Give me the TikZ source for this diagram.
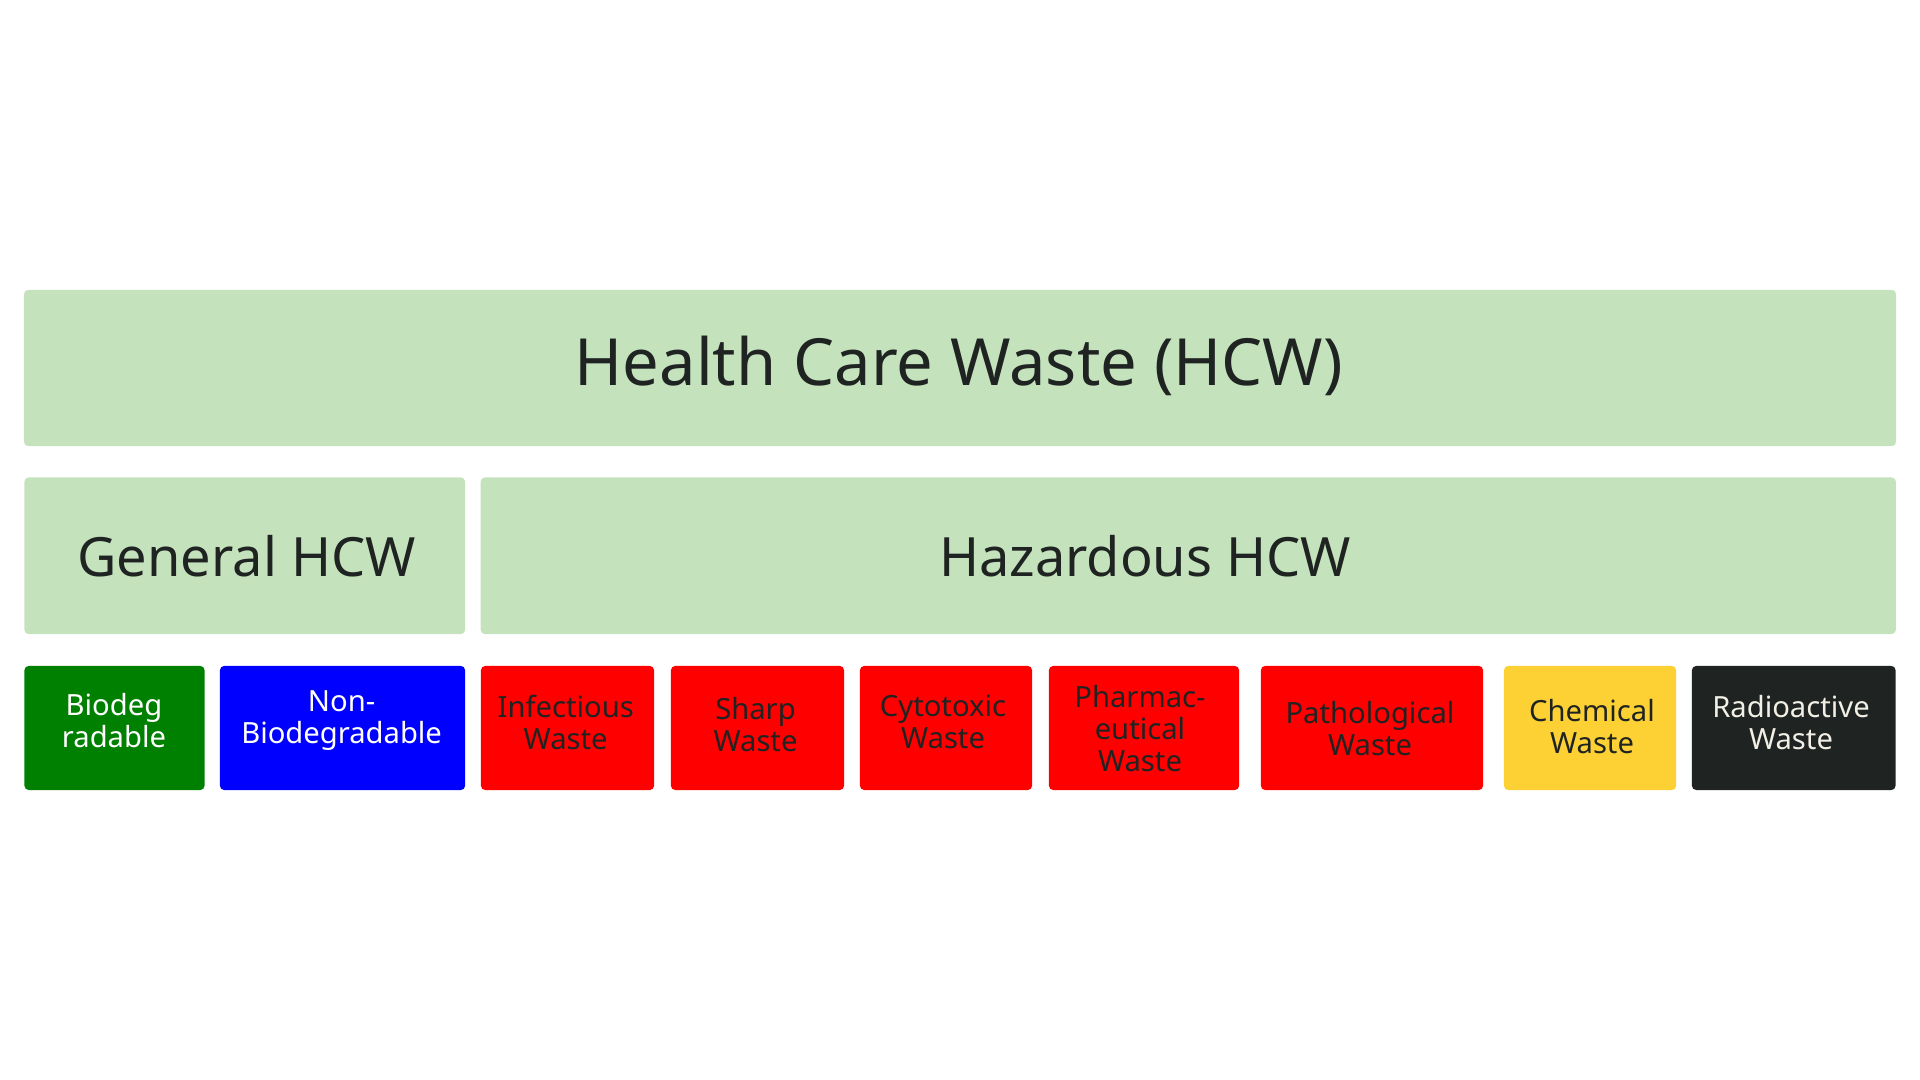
\documentclass[tikz,border=0pt]{standalone}
\usepackage{fontspec}
\setmainfont{Noto Sans}
\definecolor{lgreen}{HTML}{C4E3BD}
\definecolor{dgreen}{HTML}{008000}
\definecolor{dblue}{HTML}{0000FF}
\definecolor{dred}{HTML}{FF0000}
\definecolor{dyellow}{HTML}{FDD133}
\definecolor{dblack}{HTML}{1F2321}
\definecolor{txt}{HTML}{1F2321}
\definecolor{ltxt}{HTML}{F2F0E6}
\tikzset{
  box/.style={rounded corners=1.2pt, inner sep=0pt, draw=none},
  big/.style={font=\fontsize{18.5}{22}\selectfont, text=txt},
  mid/.style={font=\fontsize{15.4}{18}\selectfont, text=txt},
  small/.style={font=\fontsize{8.3}{9.1}\selectfont, align=center, inner sep=0pt},
}
\begin{document}
\begin{tikzpicture}[x=0.01cm,y=-0.01cm]
\useasboundingbox (0,0) rectangle (1920,1080);
% boxes
\node[box, fill=lgreen, minimum width=18.71cm, minimum height=1.56cm] (hcw) at (960,368) {};
\node[box, fill=lgreen, minimum width=4.405cm, minimum height=1.565cm] (gen) at (244.75,555.75) {};
\node[box, fill=lgreen, minimum width=14.145cm, minimum height=1.565cm] (haz) at (1188.25,555.75) {};
\node[box, fill=dgreen, minimum width=1.80cm, minimum height=1.24cm] (bio) at (114.5,728) {};
\node[box, fill=dblue, minimum width=2.45cm, minimum height=1.24cm] (nbio) at (342.5,728) {};
\node[box, fill=dred, minimum width=1.73cm, minimum height=1.24cm] (inf) at (567.5,728) {};
\node[box, fill=dred, minimum width=1.73cm, minimum height=1.24cm] (shp) at (757.5,728) {};
\node[box, fill=dred, minimum width=1.72cm, minimum height=1.24cm] (cyt) at (946,728) {};
\node[box, fill=dred, minimum width=1.90cm, minimum height=1.24cm] (pha) at (1144,728) {};
\node[box, fill=dred, minimum width=2.22cm, minimum height=1.24cm] (pat) at (1372,728) {};
\node[box, fill=dyellow, minimum width=1.72cm, minimum height=1.24cm] (che) at (1590,728) {};
\node[box, fill=dblack, minimum width=2.035cm, minimum height=1.24cm] (rad) at (1793.75,728) {};
% labels
\node[big] (thcw) at (958.8,366) {Health Care Waste (HCW)};
\node[mid] (tgen) at (246.7,556) {General HCW};
\node[mid] (thaz) at (1145,556) {Hazardous HCW};
\node[small, text=white] (tbio) at (114,720.6) {Biodeg\\radable};
\node[small, text=white] (tnbio) at (341.6,721) {Non-\\Biodegradable};
\node[small, text=txt] (tinf) at (565.7,722.5) {Infectious\\Waste};
\node[small, text=txt] (tshp) at (755.5,725) {Sharp\\Waste};
\node[small, text=txt] (tcyt) at (943,722) {Cytotoxic\\Waste};
\node[small, text=txt] (tpha) at (1140,728.6) {Pharmac-\\eutical\\Waste};
\node[small, text=txt] (tpat) at (1370,728.6) {Pathological\\Waste};
\node[small, text=txt] (tche) at (1592,727) {Chemical\\Waste};
\node[small, text=ltxt] (trad) at (1791,722.5) {Radioactive\\Waste};
\end{tikzpicture}
\end{document}
